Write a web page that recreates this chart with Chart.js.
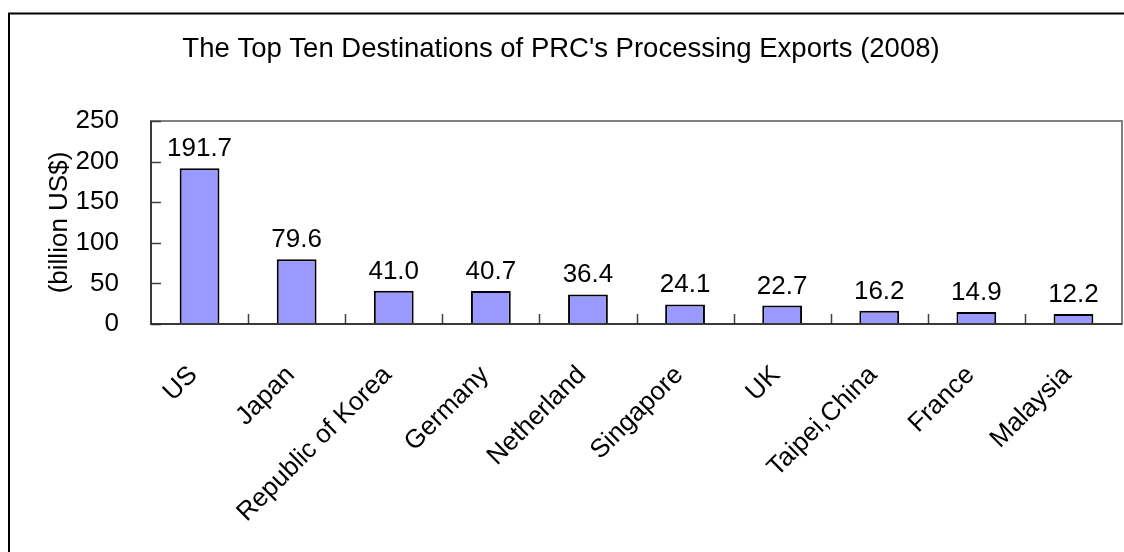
<!DOCTYPE html>
<html>
<head>
<meta charset="utf-8">
<title>Top Ten Destinations of PRC's Processing Exports (2008)</title>
<script src="https://cdn.jsdelivr.net/npm/chart.js@4/dist/chart.umd.min.js"></script>
<style>
  html, body { margin: 0; padding: 0; background: #fff; }
  #wrap { width: 1124px; height: 552px; }
</style>
</head>
<body>
<div id="wrap"><canvas id="exports" width="1124" height="552"></canvas></div>
<script>
var countries = ['US', 'Japan', 'Republic of Korea', 'Germany', 'Netherland',
  'Singapore', 'UK', 'Taipei,China', 'France', 'Malaysia'];
var exportValues = [191.7, 79.6, 41.0, 40.7, 36.4, 24.1, 22.7, 16.2, 14.9, 12.2];
var yTicks = [0, 50, 100, 150, 200, 250];

var FONT = 'Liberation Sans, Arial, sans-serif';

// outer frame + plot frame with short inside ticks (excel look)
var framePlugin = {
  id: 'frame',
  beforeDraw(chart) {
    var ctx = chart.ctx;
    ctx.save();
    ctx.fillStyle = '#fff';
    ctx.fillRect(0, 0, chart.width, chart.height);
    ctx.strokeStyle = '#000';
    ctx.lineWidth = 2;
    ctx.beginPath();
    ctx.moveTo(9, chart.height);
    ctx.lineTo(9, 13.5);
    ctx.lineTo(chart.width, 13.5);
    ctx.stroke();
    ctx.restore();
  },
  afterDatasetsDraw(chart) {
    var ctx = chart.ctx;
    var a = chart.chartArea;
    var x = chart.scales.x, y = chart.scales.y;
    ctx.save();
    ctx.strokeStyle = '#808080';
    ctx.lineWidth = 2;
    ctx.strokeRect(a.left, a.top, a.right - a.left, a.bottom - a.top);

    ctx.strokeStyle = '#404040';
    ctx.lineWidth = 1.5;
    ctx.beginPath();
    yTicks.forEach(function (v) {
      var py = Math.round(y.getPixelForValue(v)) + 0.5;
      ctx.moveTo(a.left, py);
      ctx.lineTo(a.left + 10, py);
    });
    for (var i = 1; i < countries.length; i++) {
      var px = Math.round((x.getPixelForValue(i - 1) + x.getPixelForValue(i)) / 2) + 0.5;
      ctx.moveTo(px, a.bottom);
      ctx.lineTo(px, a.bottom - 10);
    }
    ctx.stroke();

    ctx.strokeStyle = '#222';
    ctx.lineWidth = 1.5;
    ctx.beginPath();
    ctx.moveTo(a.left, a.top);
    ctx.lineTo(a.left, a.bottom);
    ctx.lineTo(a.right, a.bottom);
    ctx.stroke();

    // value labels above bars
    ctx.fillStyle = '#000';
    ctx.font = '26px ' + FONT;
    ctx.textAlign = 'center';
    ctx.textBaseline = 'alphabetic';
    chart.getDatasetMeta(0).data.forEach(function (bar, i) {
      ctx.fillText(exportValues[i].toFixed(1), bar.x, bar.y - 12);
    });
    ctx.restore();
  }
};

var ctx = document.getElementById('exports');

var exportsChart = new Chart(ctx, {
  type: 'bar',
  data: {
    labels: countries,
    datasets: [
      {
        label: 'Processing exports',
        data: exportValues,
        backgroundColor: '#9999FF',
        borderColor: '#000',
        borderWidth: 2,
        barPercentage: 1,
        categoryPercentage: 0.41
      }
    ]
  },
  options: {
    responsive: false,
    animation: false,
    layout: {
      padding: { left: 0, right: 2, top: 0, bottom: 0 }
    },
    plugins: {
      legend: { display: false },
      tooltip: { enabled: false },
      title: {
        display: true,
        text: "The Top Ten Destinations of PRC's Processing Exports (2008)",
        color: '#000',
        font: { family: FONT, size: 27.5, weight: 'normal' },
        padding: { top: 33, bottom: 55 }
      }
    },
    scales: {
      x: {
        grid: { display: false },
        border: { display: false },
        ticks: {
          color: '#000',
          font: { family: FONT, size: 26 },
          minRotation: 45,
          maxRotation: 45,
          autoSkip: false,
          padding: 28,
          labelOffset: -6
        },
        afterFit(scale) { scale.height = 228; }
      },
      y: {
        min: 0,
        max: 250,
        grid: { display: false },
        border: { display: false },
        ticks: {
          stepSize: 50,
          color: '#000',
          font: { family: FONT, size: 26 },
          padding: 24
        },
        title: {
          display: true,
          text: '(billion US$)',
          color: '#000',
          font: { family: FONT, size: 26 },
          padding: { top: 44, bottom: 0 }
        },
        afterFit(scale) { scale.width = 151; }
      }
    }
  },
  plugins: [framePlugin]
});
</script>
</body>
</html>
